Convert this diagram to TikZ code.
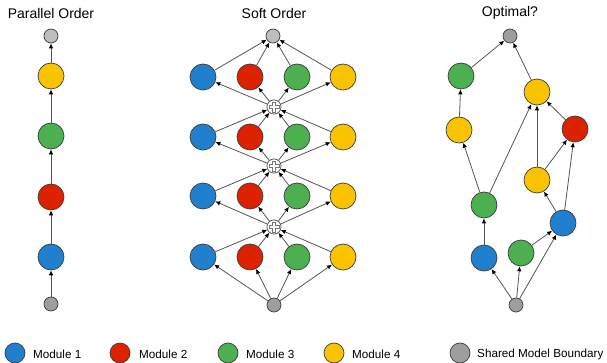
\documentclass[tikz,border=0pt]{standalone}
\usepackage{fontspec}
\setmainfont{Liberation Sans}
\usetikzlibrary{arrows.meta,calc}
\definecolor{mblue}{RGB}{33,128,206}
\definecolor{mred}{RGB}{221,34,0}
\definecolor{mgreen}{RGB}{76,175,80}
\definecolor{myellow}{RGB}{249,195,0}
\definecolor{mgray}{RGB}{158,158,158}
\definecolor{mlgray}{RGB}{190,190,190}
\definecolor{edgec}{RGB}{85,85,85}
\definecolor{outl}{RGB}{60,60,60}
\tikzset{
  mod/.style={circle,draw=outl,line width=0.7pt,minimum size=26pt,inner sep=0pt},
  m1/.style={mod,fill=mblue},
  m2/.style={mod,fill=mred},
  m3/.style={mod,fill=mgreen},
  m4/.style={mod,fill=myellow},
  bnd/.style={circle,draw=outl,line width=0.7pt,minimum size=14pt,inner sep=0pt,fill=mgray},
  bndl/.style={bnd,fill=mlgray},
  sumnode/.style={circle,draw=edgec,line width=0.6pt,minimum size=14pt,inner sep=0pt,fill=white},
  leg/.style={circle,draw=outl,line width=0.7pt,minimum size=20pt,inner sep=0pt},
  legtxt/.style={anchor=west,inner sep=0pt,font=\fontsize{11.7}{14}\selectfont},
  title/.style={inner sep=0pt,font=\fontsize{14}{16}\selectfont},
  e/.style={draw=edgec,line width=0.8pt,-{Latex[length=5pt,width=4.5pt,color=black]}},
}
\newcommand{\plusmark}[1]{%
  \draw[edgec!80,line width=0.5pt,fill=white] ($(#1)+(-1.7,-5)$) -- ++(3.4,0) -- ++(0,3.3) -- ++(3.3,0) -- ++(0,3.4) -- ++(-3.3,0) -- ++(0,3.3) -- ++(-3.4,0) -- ++(0,-3.3) -- ++(-3.3,0) -- ++(0,-3.4) -- ++(3.3,0) -- cycle;}
\begin{document}
\begin{tikzpicture}[x=1pt,y=-1pt]
\useasboundingbox (0,0) rectangle (607,363);
% titles
\node[title] (t1) at (51,13) {Parallel Order};
\node[title] (t2) at (274,13) {Soft Order};
\node[title] (t3) at (510,13) {Optimal?};
% parallel order
\node[bndl] (pt) at (51,36) {};
\node[m4] (p4) at (51,76) {};
\node[m3] (p3) at (51,136) {};
\node[m2] (p2) at (51,197) {};
\node[m1] (p1) at (51,257) {};
\node[bnd] (pb) at (51,304) {};
\draw[e] (pb) -- (p1);
\draw[e] (p1) -- (p2);
\draw[e] (p2) -- (p3);
\draw[e] (p3) -- (p4);
\draw[e] (p4) -- (pt);
% soft order
\node[bndl] (st) at (273,36) {};
\foreach \r/\y in {1/77,2/137,3/196,4/257}{
  \node[m1] (s\r a) at (203,\y) {};
  \node[m2] (s\r b) at (250,\y) {};
  \node[m3] (s\r c) at (297,\y) {};
  \node[m4] (s\r d) at (343,\y) {};
}
\node[sumnode] (x1) at (274,107) {};
\node[sumnode] (x2) at (274,166) {};
\node[sumnode] (x3) at (274,227) {};
\node[bnd] (sb) at (274,305) {};
\foreach \n in {a,b,c,d}{
  \draw[e] (s1\n) -- (st);
  \draw[e] (x1) -- (s1\n);
  \draw[e] (s2\n) -- (x1);
  \draw[e] (x2) -- (s2\n);
  \draw[e] (s3\n) -- (x2);
  \draw[e] (x3) -- (s3\n);
  \draw[e] (s4\n) -- (x3);
  \draw[e] (sb) -- (s4\n);
}
\node[sumnode] at (x1) {};
\node[sumnode] at (x2) {};
\node[sumnode] at (x3) {};
\plusmark{x1}
\plusmark{x2}
\plusmark{x3}
% optimal
\node[bnd] (ot) at (510,36) {};
\node[m3] (og1) at (461,76) {};
\node[m4] (oy1) at (537,92) {};
\node[m4] (oy2) at (459,130) {};
\node[m2] (or) at (575,129) {};
\node[m4] (oy3) at (537,180) {};
\node[m3] (og2) at (484,205) {};
\node[m1] (ob1) at (563,223) {};
\node[m1] (ob2) at (484,258) {};
\node[m3] (og3) at (521,253) {};
\node[bnd] (ob) at (516,305) {};
\draw[e] (og1) -- (ot);
\draw[e] (oy1) -- (ot);
\draw[e] (oy2) -- (og1);
\draw[e] (og2) -- (oy2);
\draw[e] (og2) -- (oy1);
\draw[e] (oy3) -- (oy1);
\draw[e] (or) -- (oy1);
\draw[e] (oy3) -- (or);
\draw[e] (ob1) -- (or);
\draw[e] (ob1) -- (oy3);
\draw[e] (ob2) -- (og2);
\draw[e] (og3) -- (ob1);
\draw[e] (ob) -- (ob2);
\draw[e] (ob) -- (og3);
\draw[e] (ob) -- (ob1);
% legend
\node[leg,fill=mblue] (l1) at (15,353) {};
\node[legtxt] (lt1) at (33,354) {Module 1};
\node[leg,fill=mred] (l2) at (120,353) {};
\node[legtxt] (lt2) at (139,354) {Module 2};
\node[leg,fill=mgreen] (l3) at (228,353) {};
\node[legtxt] (lt3) at (246,354) {Module 3};
\node[leg,fill=myellow] (l4) at (334,353) {};
\node[legtxt] (lt4) at (352,354) {Module 4};
\node[leg,fill=mgray] (l5) at (460,353) {};
\node[legtxt] (lt5) at (477,354) {Shared Model Boundary};
\end{tikzpicture}
\end{document}
